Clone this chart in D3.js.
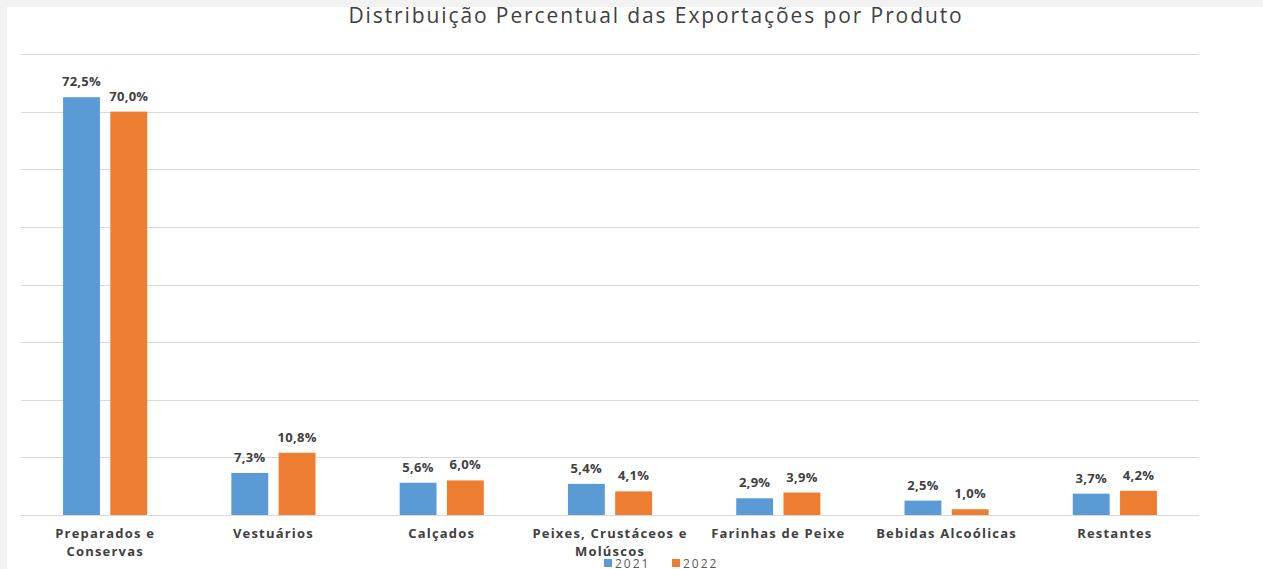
<!DOCTYPE html>
<html>
<head>
<meta charset="utf-8">
<script src="https://cdn.jsdelivr.net/npm/d3@7"></script>
<style>
  body { margin: 0; background: #f2f2f2; }
  svg { display: block; font-family: "Open Sans", "Noto Sans", sans-serif; }
</style>
</head>
<body>
<div id="chart"></div>
<script>
// chart data
var categories = ["Preparados e Conservas", "Vestuários", "Calçados", "Peixes, Crustáceos e Molúscos",
                  "Farinhas de Peixe", "Bebidas Alcoólicas", "Restantes"];
var years = ["2021", "2022"];
var values2021 = [72.5, 7.3, 5.6, 5.4, 2.9, 2.5, 3.7];
var values2022 = [70.0, 10.8, 6.0, 4.1, 3.9, 1.0, 4.2];
var yTicks = [0, 10, 20, 30, 40, 50, 60, 70, 80];

var colors = { "2021": "#5b9bd5", "2022": "#ed7d31" };

var svgWidth = 1263;
var svgHeight = 569;

var svg = d3.select("#chart")
  .append("svg")
    .attr("width", svgWidth)
    .attr("height", svgHeight);

// white chart area on grey page
svg.append("rect")
    .attr("x", 7)
    .attr("y", 7)
    .attr("width", svgWidth - 7)
    .attr("height", svgHeight - 7)
    .attr("fill", "#ffffff");

var margin = { top: 54, left: 21, right: 64, bottom: 54 };
var width = svgWidth - margin.left - margin.right;
var height = svgHeight - margin.top - margin.bottom;

var data = categories.map((c, i) => ({
    cat: c,
    vals: [ { year: "2021", v: values2021[i] }, { year: "2022", v: values2022[i] } ]
}));

var x0 = d3.scaleBand()
    .domain(categories)
    .range([0, width])
    .paddingInner(0.5)
    .paddingOuter(0.25);

var x1 = d3.scaleBand()
    .domain(years)
    .range([0, x0.bandwidth()])
    .paddingInner(0.22);

var y = d3.scaleLinear()
    .domain([0, 80])
    .range([height, 0]);

var g = svg.append("g")
    .attr("transform", `translate(${margin.left}, ${margin.top})`);

// gridlines
g.selectAll(".grid").data(yTicks)
  .enter().append("line")
    .attr("x1", 0)
    .attr("x2", width)
    .attr("y1", d => Math.round(y(d)) + 0.5)
    .attr("y2", d => Math.round(y(d)) + 0.5)
    .attr("stroke", "#d9d9d9")
    .attr("stroke-width", 1);

// bars
var groups = g.selectAll(".group").data(data)
  .enter().append("g")
    .attr("transform", d => `translate(${x0(d.cat)},0)`);

groups.selectAll("rect").data(d => d.vals)
  .enter().append("rect")
    .attr("x", d => x1(d.year))
    .attr("y", d => y(d.v))
    .attr("width", x1.bandwidth())
    .attr("height", d => height - y(d.v))
    .attr("fill", d => colors[d.year]);

// data labels
groups.selectAll(".lbl").data(d => d.vals)
  .enter().append("text")
    .attr("x", d => x1(d.year) + x1.bandwidth() / 2)
    .attr("y", d => y(d.v) - 11)
    .attr("text-anchor", "middle")
    .attr("font-size", "13px")
    .attr("font-weight", "bold")
    .attr("letter-spacing", "0.3px")
    .attr("fill", "#404040")
    .text(d => d3.format(".1f")(d.v).replace(".", ",") + "%");

// category labels, wrapped
var bottomAxis = d3.axisBottom(x0).tickSize(0).tickPadding(14);
var axisG = g.append("g")
    .attr("transform", `translate(0,${height})`)
    .call(bottomAxis);
axisG.select(".domain").remove();
axisG.selectAll("text")
    .attr("font-size", "13px")
    .attr("font-weight", "bold")
    .attr("font-family", "\"Open Sans\", sans-serif")
    .attr("letter-spacing", "1.2px")
    .attr("fill", "#404040")
    .call(wrap, x0.step() - 6);

function wrap(texts, maxW) {
  texts.each(function() {
    var text = d3.select(this);
    var words = text.text().split(/\s+/);
    var yy = text.attr("y");
    var dy = parseFloat(text.attr("dy"));
    text.text(null);
    var line = [];
    var lineNum = 0;
    var tspan = text.append("tspan").attr("x", 0).attr("y", yy).attr("dy", dy + "em");
    words.forEach(w => {
      line.push(w);
      tspan.text(line.join(" "));
      if (tspan.node().getComputedTextLength() > maxW && line.length > 1) {
        line.pop();
        tspan.text(line.join(" "));
        line = [w];
        lineNum++;
        tspan = text.append("tspan").attr("x", 0).attr("y", yy)
            .attr("dy", (dy + lineNum * 1.38) + "em").text(w);
      }
    });
  });
}

// title
svg.append("text")
    .attr("x", 656)
    .attr("y", 23)
    .attr("text-anchor", "middle")
    .attr("font-size", "21px")
    .attr("letter-spacing", "1.9px")
    .attr("fill", "#404040")
    .text("Distribuição Percentual das Exportações por Produto");

// legend
var legend = svg.append("g")
    .attr("transform", "translate(604, 559)");
years.forEach((yr, i) => {
  var lg = legend.append("g").attr("transform", `translate(${i * 68},0)`);
  lg.append("rect")
      .attr("width", 8)
      .attr("height", 8)
      .attr("fill", colors[yr]);
  lg.append("text")
      .attr("x", 11)
      .attr("y", 9)
      .attr("font-size", "12px")
      .attr("letter-spacing", "2px")
      .attr("fill", "#595959")
      .text(yr);
});
</script>
</body>
</html>
